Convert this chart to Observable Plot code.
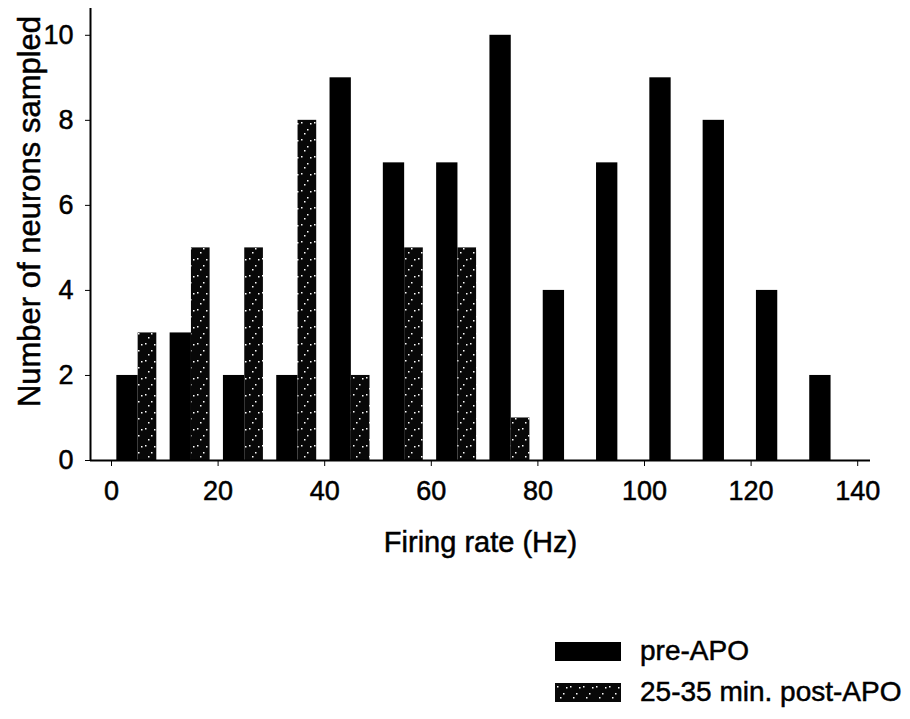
<!DOCTYPE html>
<html>
<head>
<meta charset="utf-8">
<script src="https://cdn.jsdelivr.net/npm/d3@7"></script>
<script src="https://cdn.jsdelivr.net/npm/@observablehq/plot@0.6"></script>
<style>
  body { margin: 0; background: #fff; font-family: "Liberation Sans", Arial, sans-serif; }
  #wrap { width: 910px; position: relative; }
  #legend { position: relative; height: 119px; }
  .item { position: absolute; left: 555px; display: flex; align-items: center; font-size: 28px; color: #000; -webkit-text-stroke: 0.5px #000; }
  .sw { width: 66px; height: 19px; margin-right: 19px; }
  #chart svg text { stroke: #000; stroke-width: 0.5px; }
</style>
</head>
<body>
<div id="wrap">
  <div id="chart"></div>
  <div id="legend"></div>
</div>
<script>
// Bin starts (Hz) and counts
const binStarts = [0, 10, 20, 30, 40, 50, 60, 70, 80, 90, 100, 110, 120, 130];
const preAPO    = [2, 3, 2, 2, 9, 7, 7, 10, 4, 7, 9, 8, 4, 2];
const postBins  = [0, 10, 20, 30, 40, 50, 60, 70];
const postAPO   = [3, 5, 5, 8, 2, 5, 5, 1];
const xTicks = [0, 20, 40, 60, 80, 100, 120, 140];
const yTicks = [0, 2, 4, 6, 8, 10];
const seriesNames = ["pre-APO", "25-35 min. post-APO"];
const xTitle = "Firing rate (Hz)";
const yTitle = "Number of neurons sampled";

const pre = binStarts.map((b, i) => ({bin: b, count: preAPO[i]}));
const post = postBins.map((b, i) => ({bin: b, count: postAPO[i]}));

const xDomain = [-3.94, 142.4];
const yDomain = [0, 10.63];

const chart = Plot.plot({
  width: 910,
  height: 600,
  marginLeft: 90,
  marginRight: 40,
  marginTop: 8,
  marginBottom: 140,
  style: {fontFamily: "'Liberation Sans', Arial, sans-serif", fontSize: "27px", color: "#000", background: "#fff"},
  x: {domain: xDomain, ticks: xTicks, tickSize: 6, tickPadding: 14, label: null},
  y: {domain: yDomain, ticks: yTicks, tickSize: 5, tickPadding: 12, label: null},
  marks: [
    Plot.rectY(pre, {x1: d => d.bin + 1, x2: d => d.bin + 5, y: "count", fill: "#000"}),
    Plot.rectY(post, {x1: d => d.bin + 5, x2: d => d.bin + 8.5, y: "count", fill: "url(#speckle)"}),
    Plot.ruleX([xDomain[0]], {stroke: "#000", strokeWidth: 2}),
    Plot.ruleY([0], {stroke: "#000", strokeWidth: 2}),
    Plot.text([xTitle], {frameAnchor: "bottom", dy: 91, fontSize: 29, fill: "#000", textAnchor: "middle"}),
    Plot.text([yTitle], {frameAnchor: "left", rotate: -90, dx: -60, dy: -23, fontSize: 31, fill: "#000", textAnchor: "middle"})
  ]
});

// speckled pattern for post-APO bars
const svgNS = "http://www.w3.org/2000/svg";
const defs = d3.select(chart).insert("defs", ":first-child");
const pat = defs.append("pattern").attr("id", "speckle").attr("patternUnits", "userSpaceOnUse")
  .attr("width", 13).attr("height", 17);
pat.append("rect").attr("width", 13).attr("height", 17).attr("fill", "#080808");
[[2,3],[8,10],[11,4],[5,14]].forEach(([x, y]) =>
  pat.append("rect").attr("x", x).attr("y", y).attr("width", 1.5).attr("height", 1.5).attr("fill", "#fff"));

document.getElementById("chart").appendChild(chart);

// legend
const legend = document.getElementById("legend");
seriesNames.forEach((name, i) => {
  const item = document.createElement("div");
  item.className = "item";
  item.style.top = (i === 0 ? 35 : 76) + "px";
  const sw = document.createElementNS(svgNS, "svg");
  sw.setAttribute("class", "sw");
  sw.setAttribute("width", 66); sw.setAttribute("height", 19);
  const r = document.createElementNS(svgNS, "rect");
  r.setAttribute("width", 66); r.setAttribute("height", 19);
  r.setAttribute("fill", i === 0 ? "#000" : "url(#speckle)");
  sw.appendChild(r);
  const t = document.createElement("span");
  t.textContent = name;
  item.appendChild(sw);
  item.appendChild(t);
  legend.appendChild(item);
});
</script>
</body>
</html>
